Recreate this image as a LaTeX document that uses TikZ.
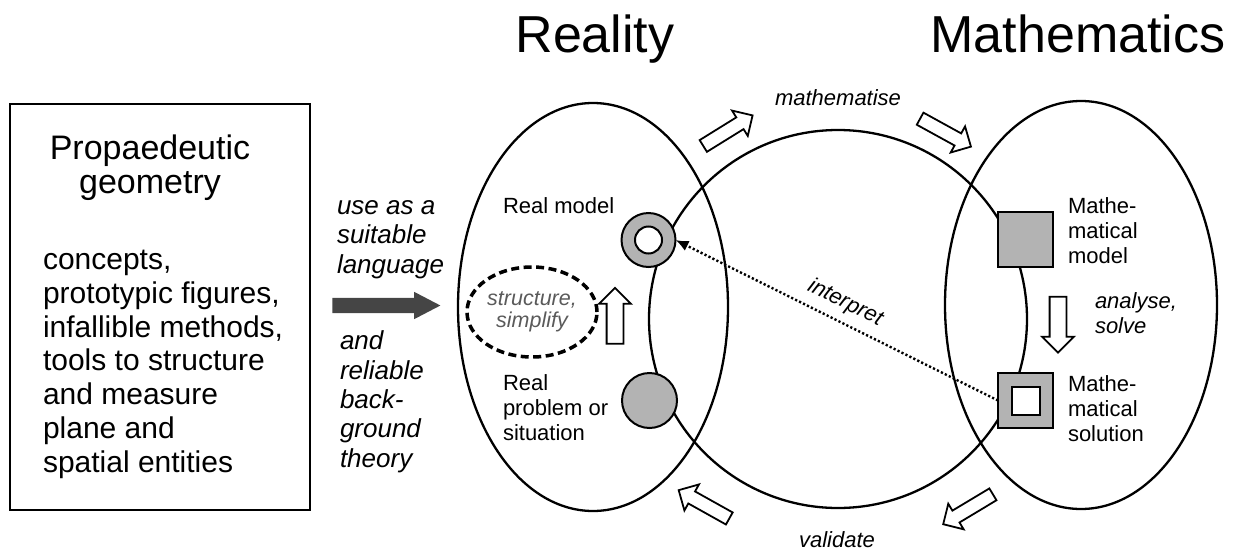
\documentclass[tikz,border=0pt]{standalone}
\usepackage{fontspec}
\setmainfont{Liberation Sans}
\usetikzlibrary{shapes.geometric,shapes.arrows,arrows.meta}
\definecolor{fillgray}{HTML}{B3B3B3}
\definecolor{darkarrow}{HTML}{454545}
\definecolor{graytext}{HTML}{5A5A5A}
\tikzset{
  hollow/.style={single arrow, draw=black, fill=white, line width=1.8pt,
    inner sep=6pt, single arrow head extend=8pt, minimum height=58pt},
  hollowbig/.style={hollow, inner sep=7.5pt, single arrow head extend=7.5pt, minimum height=56pt},
  bigarrow/.style={single arrow, draw=none, fill=darkarrow, inner sep=7.5pt,
    single arrow head extend=6pt, single arrow tip angle=55, minimum height=108pt},
  txt/.style={align=left, anchor=base west},
  small/.style={font=\fontsize{22}{25}\selectfont},
  smallit/.style={font=\itshape\fontsize{22}{25}\selectfont},
  bigline/.style={draw, line width=2.3pt},
  fillshape/.style={draw, fill=fillgray, line width=2pt},
  dotline/.style={line width=2.4pt, dash pattern=on 2.2pt off 2.2pt, -{Latex[length=13pt,width=11pt]}},
}
\begin{document}
\begin{tikzpicture}[x=1pt,y=-1pt, every node/.style={inner sep=0pt, outer sep=0pt}]
\useasboundingbox (0,0) rectangle (1237,552);

% left box (base anchor of a multi-line node = baseline of its last line)
\node[draw, line width=2pt, minimum width=300pt, minimum height=406pt] (box) at (160,307) {};
\node[font=\fontsize{34}{34}\selectfont, align=center, anchor=base] (prop) at (150,193) {Propaedeutic\\geometry};
\node[txt, font=\fontsize{30}{33.7}\selectfont] (cont) at (43,472) {concepts,\\prototypic figures,\\infallible methods,\\tools to structure\\and measure\\plane and\\spatial entities};

% middle arrow and labels
\node[txt, font=\itshape\fontsize{26}{29.3}\selectfont] (use) at (337,273) {use as a\\suitable\\language};
\node[txt, font=\itshape\fontsize{26}{29.3}\selectfont] (rel) at (340,467) {and\\reliable\\back-\\ground\\theory};
\node[bigarrow] (apply) at (379,305.5) {};

% titles
\node[font=\fontsize{52}{52}\selectfont, anchor=base] (treal) at (595,52) {Reality};
\node[font=\fontsize{52}{52}\selectfont, anchor=base] (tmath) at (1078,52) {Mathematics};

% big shapes
\node[bigline, ellipse, minimum width=270pt, minimum height=408pt] (realE) at (593,307) {};
\node[bigline, ellipse, minimum width=272pt, minimum height=408pt] (mathE) at (1081,305) {};
\node[bigline, circle, minimum size=378pt] (cyc) at (838,319) {};

% stations
\node[fillshape, circle, minimum size=54pt] (ring) at (648.5,240) {};
\node[draw, circle, fill=white, line width=2pt, minimum size=27pt] (ringin) at (ring.center) {};
\node[fillshape, circle, minimum size=55pt] (prob) at (649.5,400.5) {};
\node[fillshape, minimum size=55pt] (mmod) at (1025.5,239.5) {};
\node[fillshape, minimum size=55pt] (msol) at (1025.5,400.5) {};
\node[draw, fill=white, line width=2pt, minimum size=28pt] (msolin) at (msol.center) {};

% structure ellipse
\node[draw, ellipse, line width=3.5pt, dash pattern=on 8pt off 4.5pt, minimum width=130pt, minimum height=90pt,
      font=\itshape\fontsize{21.5}{22}\selectfont, text=graytext, align=center] (struct) at (532,312) {structure,\\simplify};

% hollow arrows
\node[hollowbig, rotate=90] (upar) at (615,320) {};
\node[hollowbig, rotate=-90] (dnar) at (1058,320.5) {};
\node[hollow, rotate=31.8] (ma1) at (725,132.5) {};
\node[hollow, rotate=-28.8] (ma2) at (942.5,131) {};
\node[hollow, rotate=211] (va1) at (971,507.5) {};
\node[hollow, rotate=150.8] (va2) at (707,506) {};

% labels
\node[smallit, anchor=base] (tmz) at (838,105) {mathematise};
\node[smallit, anchor=base] (tval) at (837,547) {validate};
\node[txt, small] (trm) at (503,213) {Real model};
\node[txt, small] (trp) at (503,440) {Real\\problem or\\situation};
\node[txt, small] (tmm) at (1068,263) {Mathe-\\matical\\model};
\node[txt, small] (tms) at (1068,441) {Mathe-\\matical\\solution};
\node[txt, smallit] (tas) at (1095,333) {analyse,\\solve};

% interpret connector
\draw[dotline] (msol.west) -- (ring.east)
  node[midway, sloped, above=9pt, smallit] (tint) {interpret};
\end{tikzpicture}
\end{document}
